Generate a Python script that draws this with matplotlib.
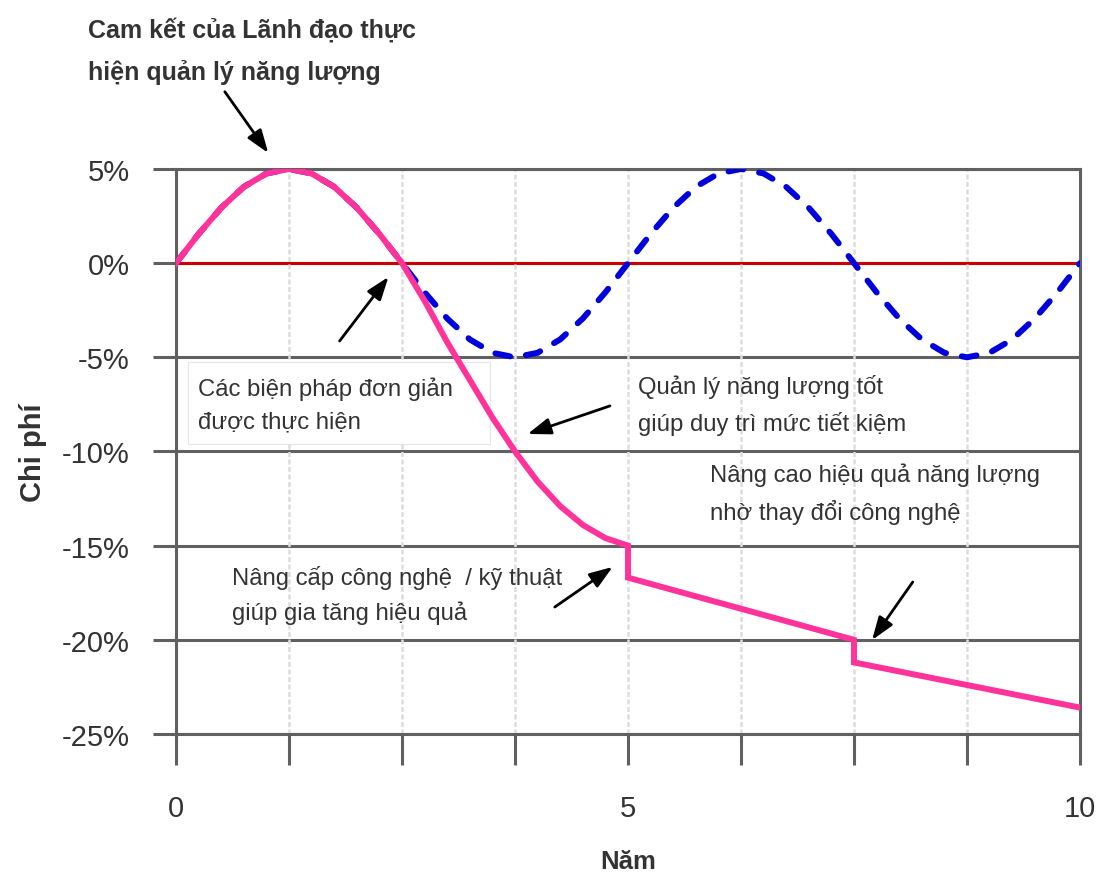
import matplotlib
matplotlib.use('Agg')
import matplotlib.pyplot as plt
from matplotlib.patches import Rectangle

# Năm (x) sampled every quarter year
years = [0.0, 0.25, 0.5, 0.75, 1.0, 1.25, 1.5, 1.75, 2.0, 2.25,
         2.5, 2.75, 3.0, 3.25, 3.5, 3.75, 4.0, 4.25, 4.5, 4.75,
         5.0, 5.25, 5.5, 5.75, 6.0, 6.25, 6.5, 6.75, 7.0, 7.25,
         7.5, 7.75, 8.0, 8.25, 8.5, 8.75, 9.0, 9.25, 9.5, 9.75, 10.0]

# blue dashed: savings lost without management (%)
cost_no_mgmt = [0.0, 1.55, 2.94, 4.05, 4.76, 5.0, 4.76, 4.05, 2.94, 1.55,
                0.0, -1.55, -2.94, -4.05, -4.76, -5.0, -4.76, -4.05, -2.94, -1.55,
                0.0, 1.55, 2.94, 4.05, 4.76, 5.0, 4.76, 4.05, 2.94, 1.55,
                0.0, -1.55, -2.94, -4.05, -4.76, -5.0, -4.76, -4.05, -2.94, -1.55, 0.0]

# pink: with energy management (%)
mgmt_years = [0.0, 0.25, 0.5, 0.75, 1.0, 1.25, 1.5, 1.75, 2.0, 2.25,
              2.5, 2.75, 3.0, 3.25, 3.5, 3.75, 4.0, 4.25, 4.5, 4.75,
              5.0, 5.0, 7.5, 7.5, 10.0]
cost_mgmt = [0.0, 1.55, 2.94, 4.05, 4.76, 5.0, 4.76, 4.05, 2.94, 1.55,
             0.0, -2.0, -4.2, -6.2, -8.2, -10.0, -11.6, -12.9, -13.9, -14.6,
             -15.0, -16.7, -20.0, -21.2, -23.6]

x_ticks = [0, 1.25, 2.5, 3.75, 5, 6.25, 7.5, 8.75, 10]
x_tick_labels = ['0', '', '', '', '5', '', '', '', '10']
y_ticks = [5, 0, -5, -10, -15, -20, -25]
y_tick_labels = ['5%', '0%', '-5%', '-10%', '-15%', '-20%', '-25%']

# text, x, y, weight, size, linespacing
notes = [
    ('Cam kết của Lãnh đạo thực\nhiện quản lý năng lượng', -0.97, 11.3, 'bold', 18, 1.9),
    ('Các biện pháp đơn giản\nđược thực hiện', 0.24, -7.5, 'normal', 17.2, 1.65),
    ('Quản lý năng lượng tốt\ngiúp duy trì mức tiết kiệm', 5.11, -7.5, 'normal', 17.2, 1.65),
    ('Nâng cao hiệu quả năng lượng\nnhờ thay đổi công nghệ', 5.91, -12.2, 'normal', 17.2, 1.65),
    ('Nâng cấp công nghệ  / kỹ thuật\ngiúp gia tăng hiệu quả', 0.62, -17.6, 'normal', 17.2, 1.65),
]
# (tail, head) of arrows in data coordinates
arrows = [
    ((0.54, 9.1), (1.02, 5.85)),
    ((1.81, -4.13), (2.35, -0.73)),
    ((4.80, -7.58), (3.89, -9.07)),
    ((4.19, -18.26), (4.83, -16.13)),
    ((8.15, -16.93), (7.70, -20.01)),
]

plt.rcParams['font.family'] = ['Liberation Sans', 'DejaVu Sans']
grid_col = '#606060'
text_col = '#333333'

fig = plt.figure(figsize=(10.96, 8.78), dpi=100)
ax = fig.add_axes([0.1606, 0.1629, 0.8248, 0.6435])

ax.set_xlim(0, 10)
ax.set_ylim(-25, 5)

# horizontal grid
for y in y_ticks:
    ax.axhline(y, color=grid_col, lw=2.2, zorder=1)
ax.axhline(0, color='#c80000', lw=2.2, zorder=1.2)
# vertical dotted grid
for x in x_ticks[1:-1]:
    ax.axvline(x, color='#dddddd', lw=1.8, ls=(0, (2, 1)), zorder=1.4)

# white label box behind the first annotation
ax.add_patch(Rectangle((0.133, -9.6), 3.34, 4.35, facecolor='white',
                       edgecolor='#e6e6e6', lw=0.8, zorder=1.5))

ax.plot(years, cost_no_mgmt, color='#0000dd', lw=4.3, ls=(0, (2.5, 2.7)),
        zorder=3, dash_capstyle='round')
ax.plot(mgmt_years, cost_mgmt, color='#ff3399', lw=4.3, zorder=4,
        solid_joinstyle='miter')

for s in ax.spines.values():
    s.set_color(grid_col)
    s.set_linewidth(2.2)

ax.set_xticks(x_ticks)
ax.set_xticklabels(x_tick_labels)
ax.set_yticks(y_ticks)
ax.set_yticklabels(y_tick_labels)
ax.tick_params(axis='x', direction='out', length=22, width=2.2, color=grid_col,
               pad=21, labelsize=21, labelcolor=text_col)
ax.tick_params(axis='y', direction='out', length=16.5, width=2.2, color=grid_col,
               pad=17, labelsize=21, labelcolor=text_col)

ax.set_xlabel('Năm', fontsize=18.5, fontweight='bold', color=text_col)
ax.xaxis.set_label_coords(0.5, -0.203)
ax.set_ylabel('Chi phí', fontsize=21, fontweight='bold', color=text_col)
ax.yaxis.set_label_coords(-0.143, 0.5)

for txt, x, y, w, fs, lsp in notes:
    ax.text(x, y, txt, fontsize=fs, fontweight=w, color=text_col, ha='left',
            va='center', linespacing=lsp, zorder=2, clip_on=False)

for tail, head in arrows:
    ax.annotate('', xy=head, xytext=tail, annotation_clip=False,
                arrowprops=dict(arrowstyle='-|>,head_length=1.4,head_width=0.5',
                                color='black', lw=2, shrinkA=0, shrinkB=0),
                zorder=5)

fig.savefig('out.png', dpi=100)
